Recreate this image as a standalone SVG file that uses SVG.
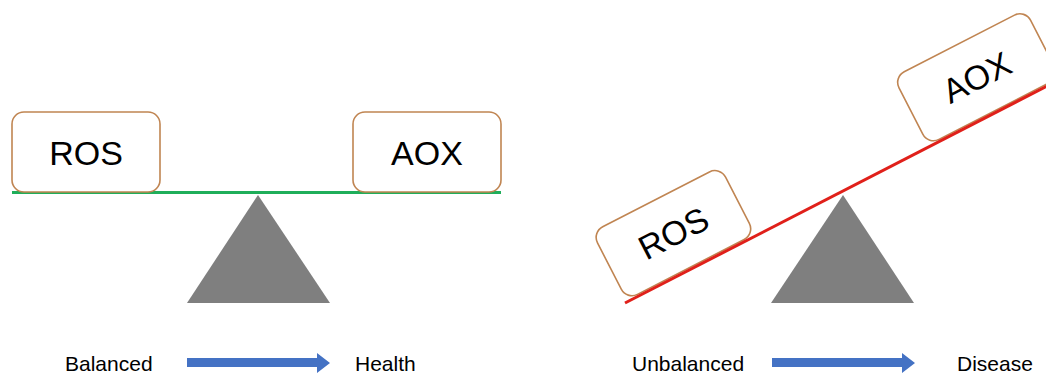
<svg xmlns="http://www.w3.org/2000/svg" width="1046" height="373" viewBox="0 0 1046 373">
<style>
.box{fill:#fff;stroke:#c08552;stroke-width:1.6}
.big{font-family:"Liberation Sans",Arial,sans-serif;font-size:34px;fill:#000;text-anchor:middle}
.lbl{font-family:"Liberation Sans",Arial,sans-serif;font-size:21px;fill:#000}
.tri{fill:#7f7f7f}
.arrow{fill:#4472c4}
</style>
<rect width="1046" height="373" fill="#fff"/>
<g id="balanced">
  <g id="connectors-left">
    <line x1="12" y1="192.5" x2="501" y2="192.5" stroke="#1fae5a" stroke-width="3"/>
  </g>
  <g id="ros-left">
    <rect class="box" x="12" y="112" width="148" height="80" rx="12"/>
    <text class="big" x="86" y="165">ROS</text>
  </g>
  <g id="aox-left">
    <rect class="box" x="353" y="112" width="148" height="80" rx="12"/>
    <text class="big" x="427" y="165">AOX</text>
  </g>
  <polygon id="fulcrum-left" class="tri" points="258,195 330,303 187,303"/>
</g>
<g id="unbalanced">
  <g transform="translate(625,303) rotate(-27.2)">
    <g id="ros-right">
      <rect class="box" x="3" y="-78" width="144" height="76" rx="12"/>
      <text class="big" x="75" y="-28">ROS</text>
    </g>
    <g id="aox-right">
      <rect class="box" x="342" y="-78" width="148" height="76" rx="12"/>
      <text class="big" x="416" y="-28">AOX</text>
    </g>
    <g id="connectors-right">
      <line x1="0" y1="0" x2="500" y2="0" stroke="#e0201a" stroke-width="3"/>
    </g>
  </g>
  <polygon id="fulcrum-right" class="tri" points="843,195 914,303 771,303"/>
</g>
<g id="legend">
  <text class="lbl" x="65" y="371">Balanced</text>
  <polygon class="arrow" points="187,358 317,358 317,353 330,363 317,373 317,367 187,367"/>
  <text class="lbl" x="355" y="371">Health</text>
  <text class="lbl" x="632" y="371">Unbalanced</text>
  <polygon class="arrow" points="772,358 902,358 902,353 915,363 902,373 902,367 772,367"/>
  <text class="lbl" x="957" y="371">Disease</text>
</g>
</svg>
